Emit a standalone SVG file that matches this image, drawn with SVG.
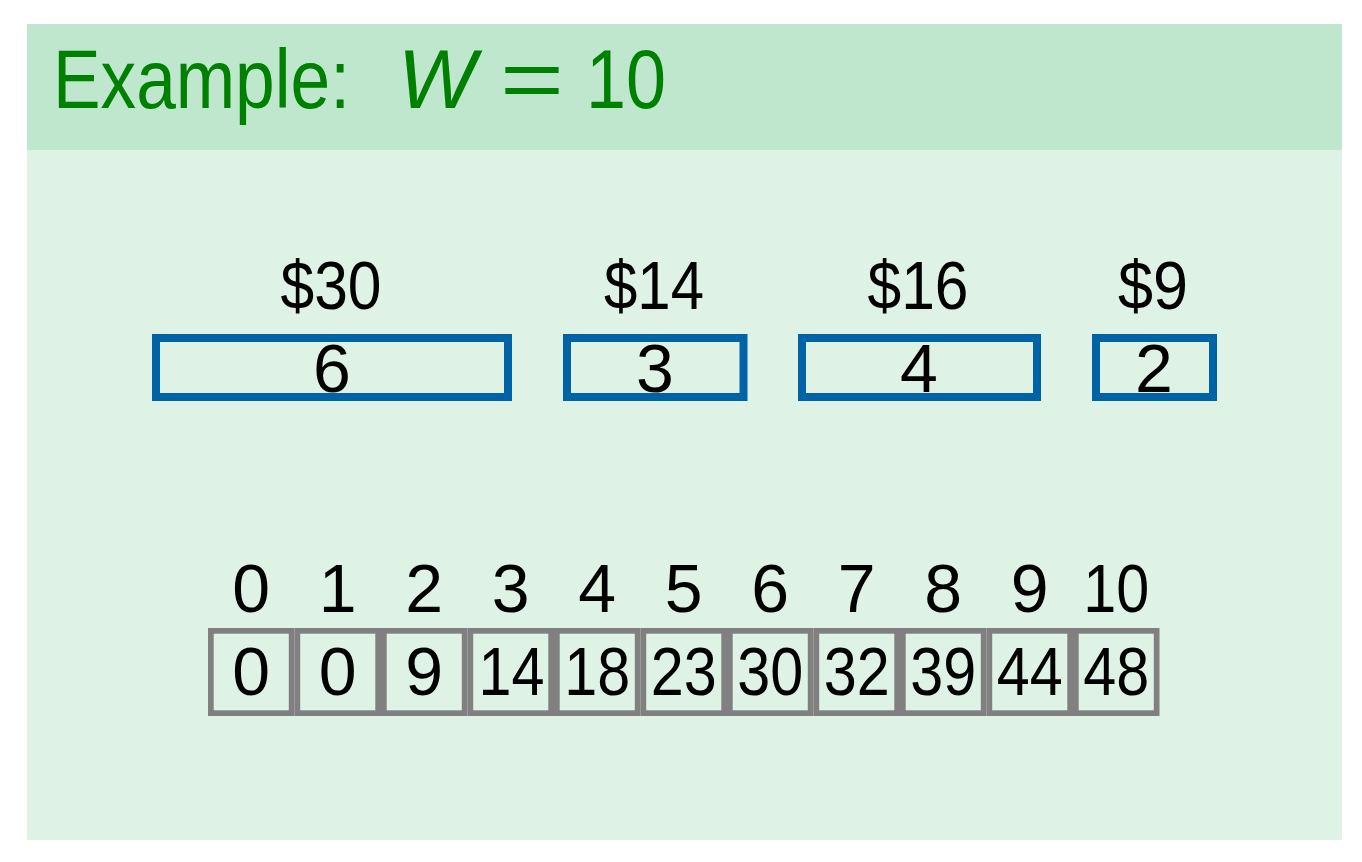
<svg xmlns="http://www.w3.org/2000/svg" width="1362" height="862" viewBox="0 0 1362 862">
<style>
.t{font-family:"Liberation Sans",Arial,sans-serif;fill:#000;}
.n{font-size:68px;text-anchor:middle;}
.ttl{font-family:"Liberation Sans",Arial,sans-serif;fill:#008000;font-size:84px;}
.item{fill:none;stroke:#0063a5;stroke-width:8;}
.cell{fill:none;stroke:#808080;stroke-width:5.7;}
</style>
<rect x="0" y="0" width="1362" height="862" fill="#ffffff"/>
<rect x="27" y="24" width="1315" height="816" fill="#def2e5"/>
<rect x="27" y="24" width="1315" height="126" fill="#bee7cd"/>
<g id="title">
<text class="ttl" x="53" y="108" textLength="297" lengthAdjust="spacingAndGlyphs">Example:</text>
<text class="ttl" x="398" y="108" font-style="italic" textLength="78" lengthAdjust="spacingAndGlyphs">W</text>
<text class="ttl" x="500" y="108" font-size="96px" textLength="64" lengthAdjust="spacingAndGlyphs">=</text>
<text class="ttl" x="586" y="108" textLength="80" lengthAdjust="spacingAndGlyphs">10</text>
</g>
<g id="items">
<g id="item1">
<text class="t n" x="331" y="309" textLength="101" lengthAdjust="spacingAndGlyphs">$30</text>
<rect class="item" x="156" y="338" width="352" height="59"/>
<text class="t n" x="332" y="392">6</text>
</g>
<g id="item2">
<text class="t n" x="654" y="309" textLength="100" lengthAdjust="spacingAndGlyphs">$14</text>
<rect class="item" x="567" y="338" width="176.5" height="59"/>
<text class="t n" x="655" y="392">3</text>
</g>
<g id="item3">
<text class="t n" x="918" y="309" textLength="101" lengthAdjust="spacingAndGlyphs">$16</text>
<rect class="item" x="802" y="338" width="235" height="59"/>
<text class="t n" x="919" y="392">4</text>
</g>
<g id="item4">
<text class="t n" x="1153" y="309" textLength="70" lengthAdjust="spacingAndGlyphs">$9</text>
<rect class="item" x="1096" y="338" width="117" height="59"/>
<text class="t n" x="1154" y="392">2</text>
</g>
</g>
<g id="table">
<g id="cell0"><text class="t n" x="251.25" y="612">0</text><rect class="cell" x="210.85" y="630.85" width="80.8" height="82.3"/><text class="t n" x="251.25" y="695">0</text></g>
<g id="cell1"><text class="t n" x="337.75" y="612">1</text><rect class="cell" x="297.35" y="630.85" width="80.8" height="82.3"/><text class="t n" x="337.75" y="695">0</text></g>
<g id="cell2"><text class="t n" x="424.25" y="612">2</text><rect class="cell" x="383.85" y="630.85" width="80.8" height="82.3"/><text class="t n" x="424.25" y="695">9</text></g>
<g id="cell3"><text class="t n" x="510.75" y="612">3</text><rect class="cell" x="470.35" y="630.85" width="80.8" height="82.3"/><text class="t n" x="511.5" y="695" textLength="66" lengthAdjust="spacingAndGlyphs">14</text></g>
<g id="cell4"><text class="t n" x="597.25" y="612">4</text><rect class="cell" x="556.85" y="630.85" width="80.8" height="82.3"/><text class="t n" x="597.25" y="695" textLength="66" lengthAdjust="spacingAndGlyphs">18</text></g>
<g id="cell5"><text class="t n" x="683.75" y="612">5</text><rect class="cell" x="643.35" y="630.85" width="80.8" height="82.3"/><text class="t n" x="683.75" y="695" textLength="66" lengthAdjust="spacingAndGlyphs">23</text></g>
<g id="cell6"><text class="t n" x="770.25" y="612">6</text><rect class="cell" x="729.85" y="630.85" width="80.8" height="82.3"/><text class="t n" x="770.25" y="695" textLength="66" lengthAdjust="spacingAndGlyphs">30</text></g>
<g id="cell7"><text class="t n" x="856.75" y="612">7</text><rect class="cell" x="816.35" y="630.85" width="80.8" height="82.3"/><text class="t n" x="856.75" y="695" textLength="66" lengthAdjust="spacingAndGlyphs">32</text></g>
<g id="cell8"><text class="t n" x="943.25" y="612">8</text><rect class="cell" x="902.85" y="630.85" width="80.8" height="82.3"/><text class="t n" x="943.25" y="695" textLength="66" lengthAdjust="spacingAndGlyphs">39</text></g>
<g id="cell9"><text class="t n" x="1029.75" y="612">9</text><rect class="cell" x="989.35" y="630.85" width="80.8" height="82.3"/><text class="t n" x="1029.75" y="695" textLength="66" lengthAdjust="spacingAndGlyphs">44</text></g>
<g id="cell10"><text class="t n" x="1116.25" y="612" textLength="66" lengthAdjust="spacingAndGlyphs">10</text><rect class="cell" x="1075.85" y="630.85" width="80.8" height="82.3"/><text class="t n" x="1116.25" y="695" textLength="66" lengthAdjust="spacingAndGlyphs">48</text></g>
</g>
<g id="connectors"/>
</svg>
